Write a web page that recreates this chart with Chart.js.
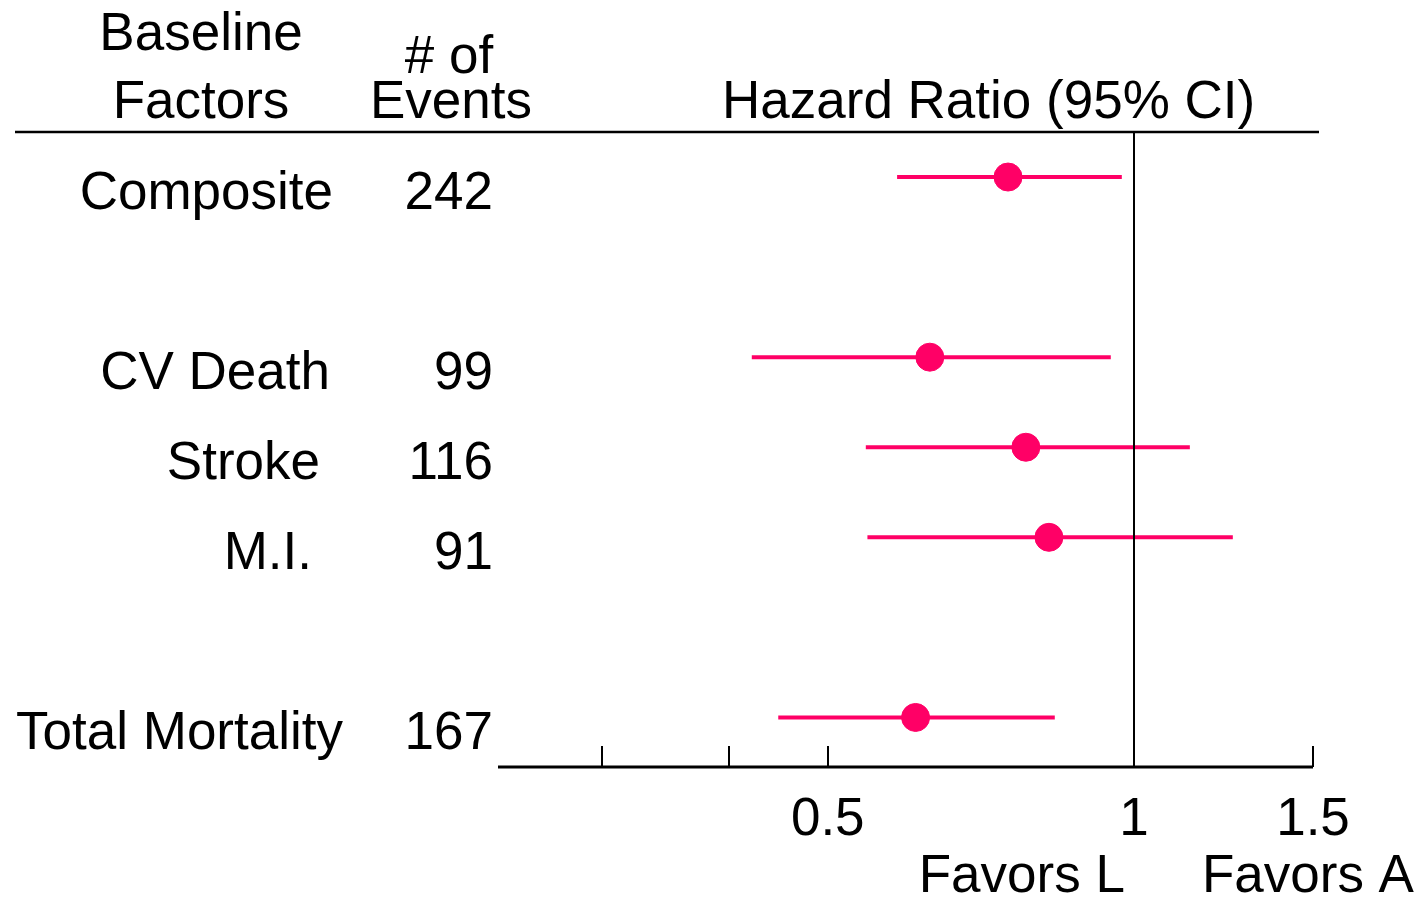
<!DOCTYPE html>
<html>
<head>
<meta charset="utf-8">
<title>Hazard Ratio (95% CI)</title>
<script src="https://cdn.jsdelivr.net/npm/chart.js@4/dist/chart.umd.min.js"></script>
<style>
  html, body { margin: 0; padding: 0; background: #ffffff; }
  #wrap { width: 1419px; height: 897px; }
</style>
</head>
<body>
<div id="wrap"><canvas id="forest" width="1419" height="897"></canvas></div>
<script>
// Outcomes, event counts and hazard ratios with 95% confidence limits
const outcomes = ['Composite', 'CV Death', 'Stroke', 'M.I.', 'Total Mortality'];
const eventCounts = [242, 99, 116, 91, 167];
const rowIndex = [0, 2, 3, 4, 6];
const hazardRatio = [0.752, 0.630, 0.783, 0.825, 0.610];
const ciLower = [0.585, 0.421, 0.545, 0.547, 0.447];
const ciUpper = [0.973, 0.949, 1.135, 1.251, 0.836];

// Hazard-ratio axis ticks (log scale)
const tickValues = [0.3, 0.4, 0.5, 1, 1.5];
const tickLabels = ['', '', '0.5', '1', '1.5'];

// Layout: right edge of each outcome label in the left-hand table
const outcomeRightEdge = [333, 330, 320, 312, 343];

const PINK = '#ff0066';
const FONT = '53px "Liberation Sans", Arial, Helvetica, sans-serif';

const ciDatasets = outcomes.map((name, i) => ({
  type: 'line',
  label: name + ' CI',
  data: [{ x: ciLower[i], y: rowIndex[i] }, { x: ciUpper[i], y: rowIndex[i] }],
  borderColor: PINK,
  borderWidth: 4,
  pointRadius: 0,
  fill: false,
  order: 2
}));

const pointDataset = {
  type: 'scatter',
  label: 'Hazard ratio',
  data: outcomes.map((_, i) => ({ x: hazardRatio[i], y: rowIndex[i] })),
  backgroundColor: PINK,
  borderColor: PINK,
  pointRadius: 14,
  pointStyle: 'circle',
  order: 1
};

const forestDecor = {
  id: 'forestDecor',
  afterDatasetsDraw(chart) {
    const { ctx, chartArea: a, scales: { x } } = chart;
    ctx.save();
    // reference line at HR = 1
    ctx.strokeStyle = '#000';
    ctx.lineWidth = 2;
    const x1 = Math.round(x.getPixelForValue(1));
    ctx.beginPath();
    ctx.moveTo(x1, a.top);
    ctx.lineTo(x1, a.bottom);
    ctx.stroke();
    ctx.restore();
  },
  afterDraw(chart) {
    const { ctx, chartArea: a, scales: { x, y } } = chart;
    ctx.save();
    ctx.fillStyle = '#000';
    ctx.strokeStyle = '#000';

    // header rule
    ctx.lineWidth = 2.5;
    ctx.beginPath();
    ctx.moveTo(15, a.top);
    ctx.lineTo(1319, a.top);
    ctx.stroke();

    // x axis line with inward ticks
    ctx.lineWidth = 3;
    ctx.beginPath();
    ctx.moveTo(a.left, a.bottom);
    ctx.lineTo(a.right, a.bottom);
    ctx.stroke();
    ctx.lineWidth = 2;
    tickValues.forEach(v => {
      const px = Math.round(x.getPixelForValue(v));
      ctx.beginPath();
      ctx.moveTo(px, a.bottom);
      ctx.lineTo(px, a.bottom - 21);
      ctx.stroke();
    });

    ctx.font = FONT;
    ctx.textBaseline = 'alphabetic';

    // tick labels
    ctx.textAlign = 'center';
    tickValues.forEach((v, i) => {
      if (tickLabels[i]) ctx.fillText(tickLabels[i], x.getPixelForValue(v), a.bottom + 68);
    });

    // direction captions under the axis
    ctx.textAlign = 'right';
    ctx.fillText('Favors L', x.getPixelForValue(1) - 9, 892);
    ctx.textAlign = 'left';
    ctx.fillText('Favors A', x.getPixelForValue(1) + 68, 892);

    // column headers
    ctx.textAlign = 'center';
    ctx.fillText('Baseline', 201, 50);
    ctx.fillText('Factors', 201, 118);
    ctx.fillText('# of', 449, 73);
    ctx.fillText('Events', 451, 118);
    ctx.textAlign = 'left';
    ctx.fillText('Hazard Ratio (95% CI)', 722, 118);

    // table rows
    outcomes.forEach((name, i) => {
      const py = y.getPixelForValue(rowIndex[i]) + 32;
      ctx.textAlign = 'right';
      ctx.fillText(name, outcomeRightEdge[i], py);
      ctx.fillText(String(eventCounts[i]), 493, py);
    });
    ctx.restore();
  }
};

new Chart(document.getElementById('forest'), {
  data: { datasets: [...ciDatasets, pointDataset] },
  options: {
    responsive: false,
    animation: false,
    devicePixelRatio: 1,
    layout: { padding: { left: 498, right: 106, top: 132, bottom: 130 } },
    plugins: { legend: { display: false }, tooltip: { enabled: false }, title: { display: false } },
    scales: {
      x: { type: 'logarithmic', min: 0.237, max: 1.5, display: false },
      y: { type: 'linear', min: -0.5, max: 6.55, reverse: true, display: false }
    }
  },
  plugins: [forestDecor]
});
</script>
</body>
</html>
